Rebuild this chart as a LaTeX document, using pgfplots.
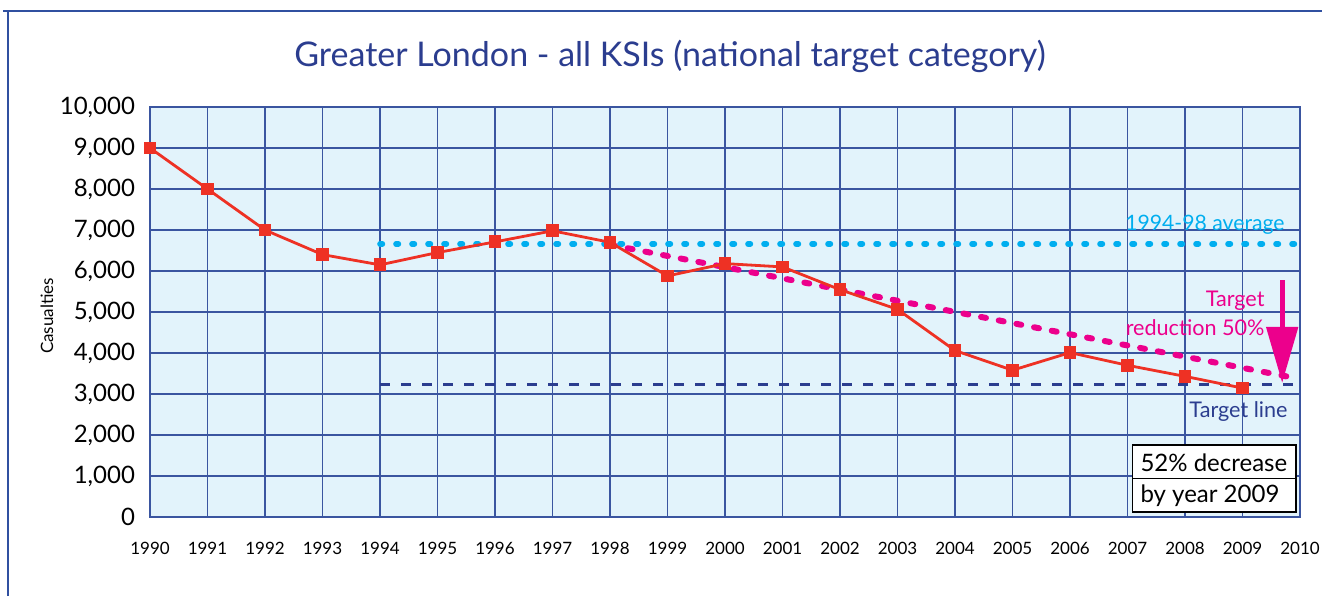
\documentclass[border=0pt]{standalone}
\usepackage{pgfplots}
\pgfplotsset{compat=1.18}
\usepackage{fontspec}
\setmainfont{Lato}
\usetikzlibrary{arrows.meta}
\definecolor{navy}{HTML}{2B3D8F}
\definecolor{gridc}{HTML}{3A55A0}
\definecolor{bgc}{HTML}{E2F3FB}
\definecolor{redc}{HTML}{EE3124}
\definecolor{cyanc}{HTML}{00AEEF}
\definecolor{magc}{HTML}{EC008C}
\definecolor{framec}{HTML}{3050A0}
\begin{document}
\begin{tikzpicture}
\useasboundingbox (0,0) rectangle (661pt,298pt);
\draw[framec, line width=0.8pt] (1.5pt,292.5pt) -- (661pt,292.5pt);
\draw[framec, line width=0.8pt] (4pt,0pt) -- (4pt,292.5pt);
\node[navy, font=\fontsize{17}{20}\selectfont] at (335pt,270pt) {Greater London - all KSIs (national target category)};
\node[rotate=90, font=\fontsize{8.5}{10}\selectfont] at (23.5pt,140pt) {Casualties};
\begin{axis}[
  at={(75pt,39.5pt)}, anchor=south west,
  width=575pt, height=205pt, scale only axis,
  xmin=1990, xmax=2010, ymin=0, ymax=10000,
  xtick={1990,1991,...,2010},
  ytick={0,1000,...,10000},
  scaled ticks=false,
  grid=major,
  major grid style={gridc, line width=0.6pt},
  axis line style={gridc, line width=0.8pt},
  axis background/.style={fill=bgc},
  major tick length=0pt,
  /pgf/number format/assume math mode=true,
  yticklabel style={/pgf/number format/.cd, fixed, 1000 sep={,}, /tikz/.cd, font=\fontsize{12}{14}\selectfont, xshift=-4pt},
  xticklabel style={/pgf/number format/1000 sep={}, font=\fontsize{8.5}{10}\selectfont, yshift=-9pt},
  clip=false,
]
\addplot[cyanc, line width=2.8pt, line cap=round, dash pattern=on 1.2pt off 6.8pt] coordinates {(1994,6660) (2010,6660)};
\addplot[navy, line width=1.5pt, dash pattern=on 5pt off 5.5pt] coordinates {(1994,3240) (2010,3240)};
\addplot[magc, line width=3pt, line cap=round, dash pattern=on 2.5pt off 6.5pt] coordinates {(1998,6640) (2009.8,3420)};
\addplot[redc, line width=1.4pt, mark=square*, mark size=2.5pt, mark options={solid, fill=redc, draw=redc}] coordinates {
(1990,9000) (1991,8000) (1992,7000) (1993,6400) (1994,6150) (1995,6450) (1996,6710) (1997,6980) (1998,6700) (1999,5880)
(2000,6180) (2001,6100) (2002,5545) (2003,5065) (2004,4060) (2005,3580) (2006,4010) (2007,3700) (2008,3430) (2009,3145)};
\draw[magc, line width=2.5pt, -{Triangle[width=15.5pt,length=28pt]}] (axis cs:2009.69,5780) -- (axis cs:2009.69,3270);
\node[cyanc, anchor=east, font=\fontsize{10.6}{12}\selectfont, inner sep=0pt] at (axis cs:2009.74,7120) {1994-98 average};
\node[magc, anchor=east, font=\fontsize{10.8}{12}\selectfont, inner sep=0pt] at (axis cs:2009.39,5270) {Target};
\node[magc, anchor=east, font=\fontsize{10.8}{12}\selectfont, inner sep=0pt] at (axis cs:2009.39,4630) {reduction 50\%};
\node[navy, anchor=east, font=\fontsize{10.8}{12}\selectfont, inner sep=0pt] at (axis cs:2009.79,2585) {Target line};
\draw[black, fill=white, line width=0.6pt] (axis cs:2007.08,122) rectangle (axis cs:2009.93,1756);
\draw[black, line width=0.5pt] (axis cs:2007.08,927) -- (axis cs:2009.93,927);
\node[anchor=west, font=\fontsize{12}{14}\selectfont, inner sep=0pt] at (axis cs:2007.22,1317) {52\% decrease};
\node[anchor=west, font=\fontsize{12}{14}\selectfont, inner sep=0pt] at (axis cs:2007.22,512) {by year 2009};
\end{axis}
\end{tikzpicture}
\end{document}
